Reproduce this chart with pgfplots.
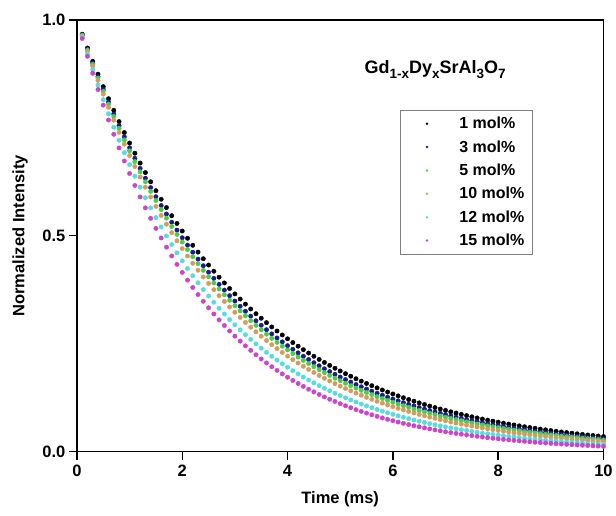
\documentclass[border=0pt]{standalone}
\usepackage{pgfplots}
\pgfplotsset{compat=1.18}
\usepackage{pgfplotstable}
\usepackage{fontspec}
\setmainfont{Liberation Sans}
\definecolor{cnavy}{HTML}{1C1C8C}
\definecolor{cgreen}{HTML}{4CCC4C}
\definecolor{corange}{HTML}{D49C5C}
\definecolor{ccyan}{HTML}{55DDDD}
\definecolor{cmag}{HTML}{CC44CC}
\newcommand{\sub}[1]{\raisebox{-0.45ex}{\fontsize{13.5}{14}\selectfont #1}}
\pgfplotstableread{
t a b c d e f
0.1 0.9670 0.9655 0.9645 0.9630 0.9600 0.9570
0.2 0.9351 0.9322 0.9303 0.9274 0.9216 0.9158
0.3 0.9042 0.9000 0.8972 0.8931 0.8847 0.8765
0.4 0.8744 0.8690 0.8654 0.8600 0.8493 0.8388
0.5 0.8455 0.8390 0.8347 0.8282 0.8154 0.8027
0.6 0.8176 0.8101 0.8050 0.7976 0.7828 0.7682
0.7 0.7907 0.7821 0.7765 0.7680 0.7514 0.7352
0.8 0.7646 0.7551 0.7489 0.7396 0.7214 0.7036
0.9 0.7393 0.7291 0.7223 0.7123 0.6925 0.6733
1.0 0.7149 0.7039 0.6967 0.6859 0.6648 0.6443
1.1 0.6913 0.6796 0.6719 0.6605 0.6382 0.6166
1.2 0.6685 0.6562 0.6481 0.6361 0.6127 0.5901
1.3 0.6465 0.6335 0.6251 0.6126 0.5882 0.5647
1.4 0.6251 0.6117 0.6029 0.5899 0.5647 0.5405
1.5 0.6045 0.5906 0.5815 0.5681 0.5421 0.5172
1.6 0.5846 0.5702 0.5608 0.5470 0.5204 0.4950
1.7 0.5653 0.5505 0.5409 0.5268 0.4996 0.4737
1.8 0.5466 0.5315 0.5217 0.5073 0.4796 0.4533
1.9 0.5286 0.5132 0.5032 0.4885 0.4604 0.4338
2.0 0.5111 0.4955 0.4853 0.4705 0.4420 0.4152
2.1 0.4943 0.4784 0.4681 0.4531 0.4243 0.3973
2.2 0.4780 0.4619 0.4515 0.4363 0.4074 0.3802
2.3 0.4622 0.4460 0.4355 0.4202 0.3911 0.3639
2.4 0.4469 0.4306 0.4200 0.4046 0.3754 0.3482
2.5 0.4322 0.4157 0.4051 0.3896 0.3604 0.3333
2.6 0.4179 0.4014 0.3907 0.3752 0.3460 0.3189
2.7 0.4041 0.3875 0.3768 0.3613 0.3321 0.3052
2.8 0.3908 0.3742 0.3635 0.3480 0.3189 0.2921
2.9 0.3779 0.3613 0.3506 0.3351 0.3061 0.2795
3.0 0.3654 0.3488 0.3381 0.3227 0.2939 0.2675
3.1 0.3534 0.3368 0.3261 0.3108 0.2821 0.2560
3.2 0.3417 0.3251 0.3145 0.2993 0.2708 0.2450
3.3 0.3304 0.3139 0.3034 0.2882 0.2600 0.2345
3.4 0.3195 0.3031 0.2926 0.2775 0.2496 0.2244
3.5 0.3090 0.2926 0.2822 0.2673 0.2396 0.2147
3.6 0.2988 0.2825 0.2722 0.2574 0.2300 0.2055
3.7 0.2889 0.2728 0.2625 0.2478 0.2208 0.1967
3.8 0.2794 0.2634 0.2532 0.2387 0.2120 0.1882
3.9 0.2702 0.2543 0.2442 0.2298 0.2035 0.1801
4.0 0.2613 0.2455 0.2356 0.2213 0.1954 0.1724
4.1 0.2526 0.2371 0.2272 0.2131 0.1876 0.1650
4.2 0.2443 0.2289 0.2191 0.2053 0.1801 0.1579
4.3 0.2362 0.2210 0.2113 0.1977 0.1728 0.1511
4.4 0.2284 0.2134 0.2038 0.1904 0.1659 0.1446
4.5 0.2209 0.2060 0.1966 0.1833 0.1593 0.1384
4.6 0.2136 0.1989 0.1896 0.1765 0.1529 0.1324
4.7 0.2066 0.1920 0.1829 0.1700 0.1468 0.1267
4.8 0.1997 0.1854 0.1764 0.1637 0.1409 0.1213
4.9 0.1932 0.1790 0.1701 0.1576 0.1353 0.1161
5.0 0.1868 0.1728 0.1641 0.1518 0.1299 0.1111
5.1 0.1806 0.1669 0.1583 0.1462 0.1247 0.1063
5.2 0.1747 0.1611 0.1527 0.1408 0.1197 0.1017
5.3 0.1689 0.1555 0.1472 0.1356 0.1149 0.0973
5.4 0.1633 0.1502 0.1420 0.1306 0.1103 0.0932
5.5 0.1579 0.1450 0.1370 0.1257 0.1059 0.0892
5.6 0.1527 0.1400 0.1321 0.1211 0.1017 0.0853
5.7 0.1477 0.1352 0.1274 0.1166 0.0976 0.0817
5.8 0.1428 0.1305 0.1229 0.1123 0.0937 0.0781
5.9 0.1381 0.1260 0.1185 0.1081 0.0900 0.0748
6.0 0.1335 0.1217 0.1143 0.1041 0.0864 0.0716
6.1 0.1291 0.1175 0.1103 0.1003 0.0829 0.0685
6.2 0.1249 0.1134 0.1063 0.0966 0.0796 0.0655
6.3 0.1207 0.1095 0.1026 0.0930 0.0764 0.0627
6.4 0.1168 0.1057 0.0989 0.0896 0.0733 0.0600
6.5 0.1129 0.1021 0.0954 0.0862 0.0704 0.0575
6.6 0.1092 0.0985 0.0920 0.0830 0.0676 0.0550
6.7 0.1056 0.0951 0.0888 0.0800 0.0649 0.0526
6.8 0.1021 0.0919 0.0856 0.0770 0.0623 0.0504
6.9 0.0987 0.0887 0.0826 0.0742 0.0598 0.0482
7.0 0.0955 0.0856 0.0796 0.0714 0.0574 0.0461
7.1 0.0923 0.0827 0.0768 0.0688 0.0551 0.0441
7.2 0.0893 0.0798 0.0741 0.0662 0.0529 0.0422
7.3 0.0863 0.0771 0.0715 0.0638 0.0508 0.0404
7.4 0.0835 0.0744 0.0689 0.0614 0.0488 0.0387
7.5 0.0807 0.0719 0.0665 0.0592 0.0468 0.0370
7.6 0.0781 0.0694 0.0641 0.0570 0.0449 0.0354
7.7 0.0755 0.0670 0.0618 0.0549 0.0431 0.0339
7.8 0.0730 0.0647 0.0596 0.0528 0.0414 0.0324
7.9 0.0706 0.0624 0.0575 0.0509 0.0398 0.0310
8.0 0.0683 0.0603 0.0555 0.0490 0.0382 0.0297
8.1 0.0660 0.0582 0.0535 0.0472 0.0366 0.0284
8.2 0.0638 0.0562 0.0516 0.0454 0.0352 0.0272
8.3 0.0617 0.0543 0.0498 0.0437 0.0338 0.0260
8.4 0.0597 0.0524 0.0480 0.0421 0.0324 0.0249
8.5 0.0577 0.0506 0.0463 0.0406 0.0311 0.0239
8.6 0.0558 0.0488 0.0447 0.0391 0.0299 0.0228
8.7 0.0540 0.0471 0.0431 0.0376 0.0287 0.0218
8.8 0.0522 0.0455 0.0416 0.0362 0.0275 0.0209
8.9 0.0505 0.0439 0.0401 0.0349 0.0264 0.0200
9.0 0.0488 0.0424 0.0387 0.0336 0.0254 0.0191
9.1 0.0472 0.0410 0.0373 0.0324 0.0244 0.0183
9.2 0.0456 0.0396 0.0360 0.0312 0.0234 0.0175
9.3 0.0441 0.0382 0.0347 0.0300 0.0225 0.0168
9.4 0.0427 0.0369 0.0335 0.0289 0.0216 0.0161
9.5 0.0413 0.0356 0.0323 0.0278 0.0207 0.0154
9.6 0.0399 0.0344 0.0311 0.0268 0.0199 0.0147
9.7 0.0386 0.0332 0.0300 0.0258 0.0191 0.0141
9.8 0.0373 0.0320 0.0289 0.0249 0.0183 0.0135
9.9 0.0361 0.0309 0.0279 0.0239 0.0176 0.0129
10.0 0.0349 0.0299 0.0269 0.0230 0.0169 0.0123
}\decay
\begin{document}
\begin{tikzpicture}
\begin{axis}[
  scale only axis, width=527pt, height=432pt,
  xmin=0, xmax=10, ymin=0, ymax=1,
  xtick={0,2,4,6,8,10}, ytick={0,0.5,1},
  yticklabel style={/pgf/number format/fixed, /pgf/number format/fixed zerofill, /pgf/number format/precision=1},
  /pgf/number format/assume math mode=true,
  tick pos=left, tick align=outside, major tick length=8pt,
  axis line style={line width=1.7pt},
  every tick/.style={line width=1.4pt, black},
  ticklabel style={font=\fontsize{16.5}{18}\selectfont\bfseries},
  xticklabel style={yshift=-2pt},
  xlabel={Time (ms)}, ylabel={Normalized Intensity},
  label style={font=\fontsize{16.5}{18}\selectfont\bfseries},
  xlabel style={at={(axis description cs:0.5,-0.11)}, anchor=center},
  ylabel style={at={(axis description cs:-0.108,0.5)}, anchor=center},
  legend style={at={(rel axis cs:0.614,0.792)}, anchor=north west, draw=gray, line width=0.8pt,
    font=\fontsize{16}{18}\selectfont\bfseries, row sep=6.3pt, inner xsep=6pt, inner ysep=5pt},
  legend cell align=left,
  legend image code/.code={\path (0pt,0pt) (50pt,0pt); \fill[draw=none] (20pt,0pt) circle (1.4pt);},
]
\addplot[only marks, mark=*, mark size=2.2pt, color=black, mark options={draw=none}] table[x=t,y=a] {\decay};
\addlegendentry{1 mol\%}
\addplot[only marks, mark=*, mark size=2.2pt, color=cnavy, mark options={draw=none}] table[x=t,y=b] {\decay};
\addlegendentry{3 mol\%}
\addplot[only marks, mark=*, mark size=2.2pt, color=cgreen, mark options={draw=none}] table[x=t,y=c] {\decay};
\addlegendentry{5 mol\%}
\addplot[only marks, mark=*, mark size=2.2pt, color=corange, mark options={draw=none}] table[x=t,y=d] {\decay};
\addlegendentry{10 mol\%}
\addplot[only marks, mark=*, mark size=2.2pt, color=ccyan, mark options={draw=none}] table[x=t,y=e] {\decay};
\addlegendentry{12 mol\%}
\addplot[only marks, mark=*, mark size=2.2pt, color=cmag, mark options={draw=none}] table[x=t,y=f] {\decay};
\addlegendentry{15 mol\%}
\node[font=\fontsize{18}{20}\selectfont\bfseries, anchor=west, inner sep=0pt] at (rel axis cs:0.546,0.885) {Gd\sub{1-x}Dy\sub{x}SrAl\sub{3}O\sub{7}};
\end{axis}
\path ([shift={(-77pt,-64pt)}]current axis.south west) rectangle ([shift={(12pt,20pt)}]current axis.north east);
\end{tikzpicture}
\end{document}
